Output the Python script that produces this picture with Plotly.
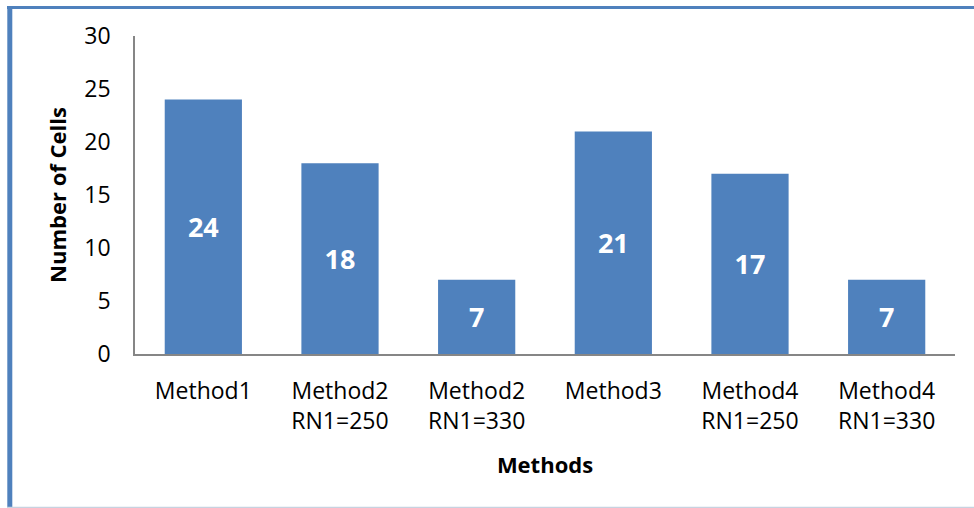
import plotly.graph_objects as go

# Categories and counts
methods = ["Method1", "Method2<br>RN1=250", "Method2<br>RN1=330",
           "Method3", "Method4<br>RN1=250", "Method4<br>RN1=330"]
cells = [24, 18, 7, 21, 17, 7]
y_ticks = [0, 5, 10, 15, 20, 25, 30]

W, H = 974, 508
ML, MR, MT, MB = 135, 19, 36, 154
pw, ph = W - ML - MR, H - MT - MB

def px_x(x):
    return (x - ML) / pw

def px_y(y):
    return (H - MB - y) / ph

BAR = "#4F81BD"
FONT = "Open Sans"

fig = go.Figure(go.Bar(
    x=methods, y=cells, marker=dict(color=BAR, line=dict(width=0)),
    width=0.565,
    text=[str(v) for v in cells], textposition="inside",
    insidetextanchor="middle",
    textfont=dict(family=FONT, size=27, color="white", weight="bold"),
    textangle=0, cliponaxis=False,
))

fig.update_layout(
    width=W, height=H,
    margin=dict(l=ML, r=MR, t=MT, b=MB),
    paper_bgcolor="white", plot_bgcolor="white",
    showlegend=False,
    uniformtext=dict(minsize=27, mode="show"),
    font=dict(family=FONT, size=23, color="black"),
    xaxis=dict(
        showline=True, linecolor="#868686", linewidth=1.5,
        showgrid=False, ticks="", ticklabelstandoff=16,
        tickfont=dict(family=FONT, size=23),
        title=dict(text="<b>Methods</b>", standoff=22,
                   font=dict(family=FONT, size=22)),
    ),
    yaxis=dict(
        range=[0, 30], tickvals=y_ticks,
        showline=True, linecolor="#868686", linewidth=1.5,
        showgrid=False, zeroline=False, ticks="", ticklabelstandoff=18,
        tickfont=dict(family=FONT, size=23),
        title=dict(text="<b>Number of Cells</b>", standoff=12,
                   font=dict(family=FONT, size=22)),
    ),
    shapes=[
        # frame: blue top and left edges, pale bottom edge
        dict(type="line", xref="paper", yref="paper",
             x0=px_x(7), x1=px_x(974), y0=px_y(7.5), y1=px_y(7.5),
             line=dict(color="#4F81BD", width=3)),
        dict(type="line", xref="paper", yref="paper",
             x0=px_x(9.8), x1=px_x(9.8), y0=px_y(6), y1=px_y(508),
             line=dict(color="#4F81BD", width=5)),
        dict(type="line", xref="paper", yref="paper",
             x0=px_x(7), x1=px_x(974), y0=px_y(507.5), y1=px_y(507.5),
             line=dict(color="#C8D2E0", width=1.5)),
    ],
)

fig.write_html("out.html")
